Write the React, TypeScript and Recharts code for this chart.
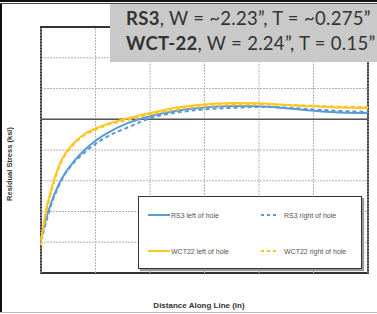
import React from 'react';
import { LineChart, Line, XAxis, YAxis, CartesianGrid, ReferenceLine, ReferenceArea } from 'recharts';

// distance along line (in) and residual stress (ksi)
const distance = [0, 0.02, 0.05, 0.1, 0.15, 0.2, 0.3, 0.4, 0.5, 0.6, 0.8, 1.0, 1.25, 1.5, 1.75, 2.0, 2.25, 2.5, 2.75, 3.0];
const rs3Left = [-3.9, -3.6, -3.2, -2.65, -2.22, -1.88, -1.38, -1.0, -0.7, -0.47, -0.12, 0.1, 0.28, 0.38, 0.43, 0.42, 0.36, 0.28, 0.22, 0.2];
const rs3Right = [-3.95, -3.7, -3.3, -2.72, -2.27, -1.9, -1.42, -1.08, -0.8, -0.58, -0.26, 0.03, 0.22, 0.32, 0.37, 0.4, 0.38, 0.32, 0.27, 0.24];
const wctLeft = [-3.95, -3.5, -2.9, -2.2, -1.65, -1.25, -0.78, -0.48, -0.3, -0.16, 0.03, 0.2, 0.38, 0.48, 0.53, 0.52, 0.46, 0.42, 0.38, 0.36];
const wctRight = [-4.1, -3.6, -3.0, -2.3, -1.72, -1.3, -0.82, -0.52, -0.34, -0.2, -0.02, 0.15, 0.32, 0.42, 0.47, 0.48, 0.47, 0.44, 0.41, 0.4];

const xTicks = [0, 0.5, 1, 1.5, 2, 2.5, 3];
const yTicks = [-5, -4, -3, -2, -1, 0, 1, 2, 3];

const BLUE = '#5b9bd5';
const YELLOW = '#ffc524';

const data = distance.map((d, i) => ({
  d,
  rs3Left: rs3Left[i],
  rs3Right: rs3Right[i],
  wctLeft: wctLeft[i],
  wctRight: wctRight[i],
}));

const legendItems = [
  { label: 'RS3 left of hole', color: BLUE, dash: '' },
  { label: 'RS3 right of hole', color: BLUE, dash: '3 3' },
  { label: 'WCT22 left of hole', color: YELLOW, dash: '' },
  { label: 'WCT22 right of hole', color: YELLOW, dash: '3 3' },
];

const LegendBox = () => (
  <div style={{
    position: 'absolute',
    left: 138,
    top: 196,
    width: 222,
    height: 71,
    background: '#fff',
    border: '1.5px solid #333',
    boxShadow: '2px 2px 1px #999',
    display: 'grid',
    gridTemplateColumns: '112px 110px',
    gridTemplateRows: '36px 36px',
    fontSize: 7,
    color: '#555',
  }}>
    {legendItems.map((it) => (
      <div key={it.label} style={{ display: 'flex', alignItems: 'center', paddingLeft: it.dash ? 10 : 9 }}>
        <svg width={it.dash ? 16 : 22} height={4} style={{ marginRight: it.dash ? 7 : 1 }}>
          <line x1={0} y1={2} x2={it.dash ? 16 : 22} y2={2} stroke={it.color} strokeWidth={2} strokeDasharray={it.dash} />
        </svg>
        <span>{it.label}</span>
      </div>
    ))}
  </div>
);

const App: React.FC = () => {
  return (
    <div style={{
      position: 'absolute',
      left: 0,
      top: 0,
      width: 377,
      height: 314,
      background: '#fff',
      overflow: 'hidden',
      fontFamily: '"Liberation Sans", Arial, sans-serif',
    }}>
      <div style={{ position: 'absolute', left: 0, top: 0, width: 377, height: 2, background: '#111' }} />
      <div style={{ position: 'absolute', left: 0, top: 3, width: 377, height: 1, background: '#444' }} />
      <div style={{ position: 'absolute', left: 0, top: 4, width: 2, height: 308, background: '#111' }} />
      <div style={{ position: 'absolute', left: 0, top: 312, width: 377, height: 1, background: '#bbb' }} />

      <div style={{ position: 'absolute', left: 0, top: 0 }}>
        <LineChart width={377} height={314} data={data} margin={{ top: 27, right: 9, bottom: 41, left: 41 }}>
          <XAxis dataKey="d" type="number" domain={[0, 3]} ticks={xTicks} hide />
          <YAxis type="number" domain={[-5, 3]} ticks={yTicks} hide />
          <CartesianGrid stroke="#b5b5b5" strokeDasharray="2 1" vertical={false} />
          {xTicks.map((t) => (
            <ReferenceLine key={t} x={t} stroke="#b5b5b5" strokeDasharray="2 1" />
          ))}
          <ReferenceLine y={0} stroke="#555" strokeWidth={1.5} />
          <Line type="monotone" dataKey="rs3Right" stroke={BLUE} strokeWidth={2} strokeDasharray="4 3" dot={false} isAnimationActive={false} />
          <Line type="monotone" dataKey="rs3Left" stroke={BLUE} strokeWidth={2} dot={false} isAnimationActive={false} />
          <Line type="monotone" dataKey="wctRight" stroke={YELLOW} strokeWidth={2} strokeDasharray="4 3" dot={false} isAnimationActive={false} />
          <Line type="monotone" dataKey="wctLeft" stroke={YELLOW} strokeWidth={2} dot={false} isAnimationActive={false} />
          <ReferenceArea x1={0} x2={3} y1={-5} y2={3} fill="none" stroke="#333" strokeWidth={2} ifOverflow="visible" />
        </LineChart>
      </div>

      <LegendBox />

      <div style={{
        position: 'absolute',
        left: 9,
        top: 164,
        transform: 'translate(-50%, -50%) rotate(-90deg)',
        whiteSpace: 'nowrap',
        fontSize: 7.5,
        fontWeight: 'bold',
        color: '#333',
      }}>
        Residual Stress (ksi)
      </div>
      <div style={{
        position: 'absolute',
        left: 199,
        top: 305,
        transform: 'translate(-50%, -50%)',
        whiteSpace: 'nowrap',
        fontSize: 8,
        fontWeight: 'bold',
        color: '#333',
      }}>
        Distance Along Line (in)
      </div>

      <div style={{
        position: 'absolute',
        left: 110,
        top: 4,
        width: 280,
        height: 58,
        background: '#c9c9c9',
        fontFamily: 'Lato, sans-serif',
        fontSize: 18.5,
        letterSpacing: 0.3,
        color: '#333',
        lineHeight: '25px',
        paddingLeft: 16,
        paddingTop: 2,
        boxSizing: 'border-box',
        whiteSpace: 'nowrap',
      }}>
        <div><b>RS3</b>, W = ~2.23”, T = ~0.275”</div>
        <div><b>WCT-22</b>, W = 2.24”, T = 0.15”</div>
      </div>
    </div>
  );
};

export default App;
